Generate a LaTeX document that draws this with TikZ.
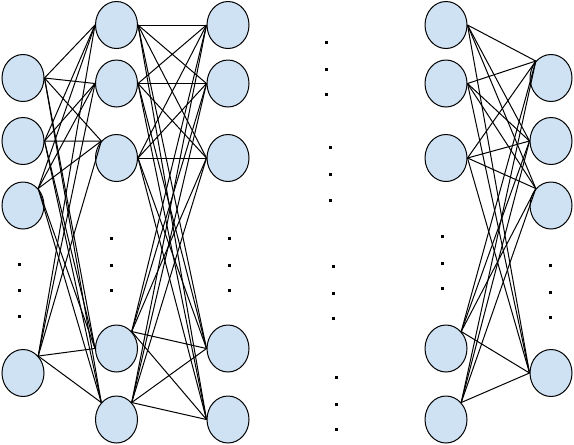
\documentclass[tikz,border=0pt]{standalone}
\usepackage{tikz}
\usetikzlibrary{
  positioning,
  shapes.geometric
}
\definecolor{cellblue}{RGB}{207,226,243}

\begin{document}
\begin{tikzpicture}[x=0.75pt,y=-0.75pt,
    neuron/.style={ellipse,draw,fill=cellblue,line width=0.75pt,minimum width=31.5pt,minimum height=35.25pt,inner sep=0pt},
    link/.style={line width=0.75pt}]
      \useasboundingbox (0,0) rectangle (574,444);
      % first column
      \node at (23,78) [neuron] (a1) {};
      \node at (23,141) [neuron] (a2) {};
      \node at (23,205.5) [neuron] (a3) {};
      \node at (23,373) [neuron] (a4) {};
      % second column
      \node at (116.5,25) [neuron] (b1) {};
      \node at (116.5,83.5) [neuron] (b2) {};
      \node at (116.5,158) [neuron] (b3) {};
      \node at (116.5,348.5) [neuron] (b4) {};
      \node at (116.5,419.5) [neuron] (b5) {};
      % third column
      \node at (228,25) [neuron] (c1) {};
      \node at (228,83.5) [neuron] (c2) {};
      \node at (228,158) [neuron] (c3) {};
      \node at (228,348.5) [neuron] (c4) {};
      \node at (228,419.5) [neuron] (c5) {};
      % fourth column
      \node at (446,25) [neuron] (d1) {};
      \node at (446,83.5) [neuron] (d2) {};
      \node at (446,158) [neuron] (d3) {};
      \node at (446,348.5) [neuron] (d4) {};
      \node at (446,419.5) [neuron] (d5) {};
      % last column
      \node at (551,78) [neuron] (e1) {};
      \node at (551,141) [neuron] (e2) {};
      \node at (551,205.5) [neuron] (e3) {};
      \node at (551,373) [neuron] (e4) {};
      % connections
      \foreach \i/\p in {1/east,2/east,3/north east,4/north east}
        \foreach \j/\q in {1/west,2/west,3/north west,4/west,5/north west}
          \draw[link] (a\i.\p) -- (b\j.\q);
      \foreach \i/\p in {1/east,2/east,3/east,4/north east,5/north east}
        \foreach \j in {1,...,5}
          \draw[link] (b\i.\p) -- (c\j.west);
      \foreach \i/\p in {1/east,2/east,3/east,4/north east,5/north east}
        \foreach \j/\q in {1/north west,2/west,3/north west,4/west}
          \draw[link] (d\i.\p) -- (e\j.\q);
      % dots
      \foreach \x/\y in {19.5/264,19.5/290,19.5/316,
                         111/238,111/265,111/290,
                         229/238,229/265,229/290,
                         326/42,326/69,326/94,
                         330/147,330/174,330/200,
                         333/266,333/293,333/318,
                         336/377,336/404,336/429,
                         442/236,442/263,442/288,
                         550/265,550/292,550/317}
        \fill (\x-1.5,\y-1.5) rectangle ++(3,3);
  \end{tikzpicture}
\end{document}
